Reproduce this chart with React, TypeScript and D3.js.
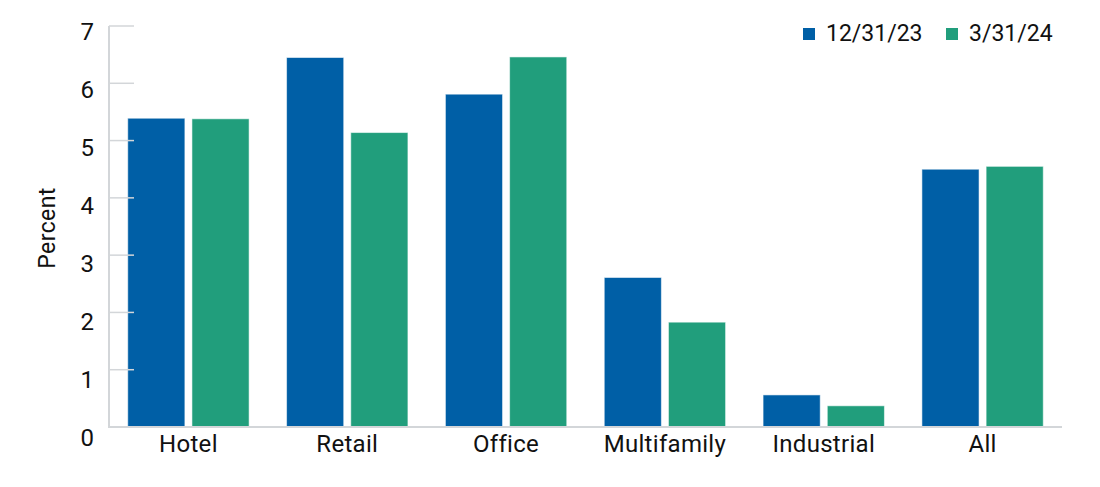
import React from 'react';
import * as d3 from 'd3';

const categories = ['Hotel', 'Retail', 'Office', 'Multifamily', 'Industrial', 'All'];
const seriesNames = ['12/31/23', '3/31/24'];
const dec23 = [5.39, 6.45, 5.81, 2.61, 0.56, 4.5];
const mar24 = [5.38, 5.14, 6.46, 1.83, 0.37, 4.55];
const yTicks = [0, 1, 2, 3, 4, 5, 6, 7];
const colors = ['#005fa6', '#219e7c'];

const W = 1100;
const H = 487;
const left = 109;
const right = 1062;
const top = 26;
const bottom = 427;
const font = 'Roboto, "Noto Sans", sans-serif';

export default function App() {
  const values = [dec23, mar24];

  const x = d3.scaleBand<string>()
    .domain(categories)
    .range([left, right])
    .paddingInner(0.236)
    .paddingOuter(0.118);

  const xSub = d3.scaleBand<number>()
    .domain([0, 1])
    .range([0, x.bandwidth()])
    .paddingInner(0.11);

  const y = d3.scaleLinear().domain([0, 7]).range([bottom, top]);
  // tick labels sit a bit looser than the ticks in the original
  const yLabel = d3.scaleLinear().domain([0, 7]).range([437, 31]);

  return (
    <svg width={W} height={H} style={{ display: 'block', margin: '-8px' }}>
      <rect width={W} height={H} fill="#fff" />

      {/* bars */}
      {categories.map((c, i) => (
        <g key={c} transform={`translate(${x(c)},0)`}>
          {values.map((s, j) => (
            <rect
              key={j}
              x={xSub(j)}
              y={y(s[i])}
              width={xSub.bandwidth()}
              height={y(0) - y(s[i])}
              fill={colors[j]}
              stroke="rgba(255,255,255,0.55)"
              strokeWidth={1}
            />
          ))}
        </g>
      ))}

      {/* axis lines and ticks */}
      <line x1={left} x2={left} y1={top} y2={bottom} stroke="#d3d6d9" strokeWidth={2} />
      <line x1={left - 1} x2={right} y1={bottom} y2={bottom} stroke="#d3d6d9" strokeWidth={2} />
      {yTicks.map((t) => (
        <g key={t}>
          {t > 0 && (
            <line x1={left} x2={left + 25} y1={y(t)} y2={y(t)} stroke="#d3d6d9" strokeWidth={1.5} />
          )}
          <text
            x={94}
            y={yLabel(t)}
            dy="0.36em"
            textAnchor="end"
            fontFamily={font}
            fontSize={24}
            fill="#111"
          >
            {t}
          </text>
        </g>
      ))}

      {categories.map((c) => (
        <text
          key={c}
          x={(x(c) as number) + x.bandwidth() / 2}
          y={452}
          textAnchor="middle"
          fontFamily={font}
          fontSize={24}
          letterSpacing={0.3}
          fill="#111"
        >
          {c}
        </text>
      ))}

      <text
        transform={`translate(55,228) rotate(-90)`}
        textAnchor="middle"
        fontFamily={font}
        fontSize={23}
        letterSpacing={0.4}
        fill="#111"
      >
        Percent
      </text>

      {/* legend */}
      {seriesNames.map((n, j) => {
        const lx = j === 0 ? 803 : 946;
        return (
          <g key={n}>
            <rect x={lx} y={28} width={12} height={12} fill={colors[j]} />
            <text x={lx + 23} y={41} fontFamily={font} fontSize={23} fill="#111">
              {n}
            </text>
          </g>
        );
      })}
    </svg>
  );
}
